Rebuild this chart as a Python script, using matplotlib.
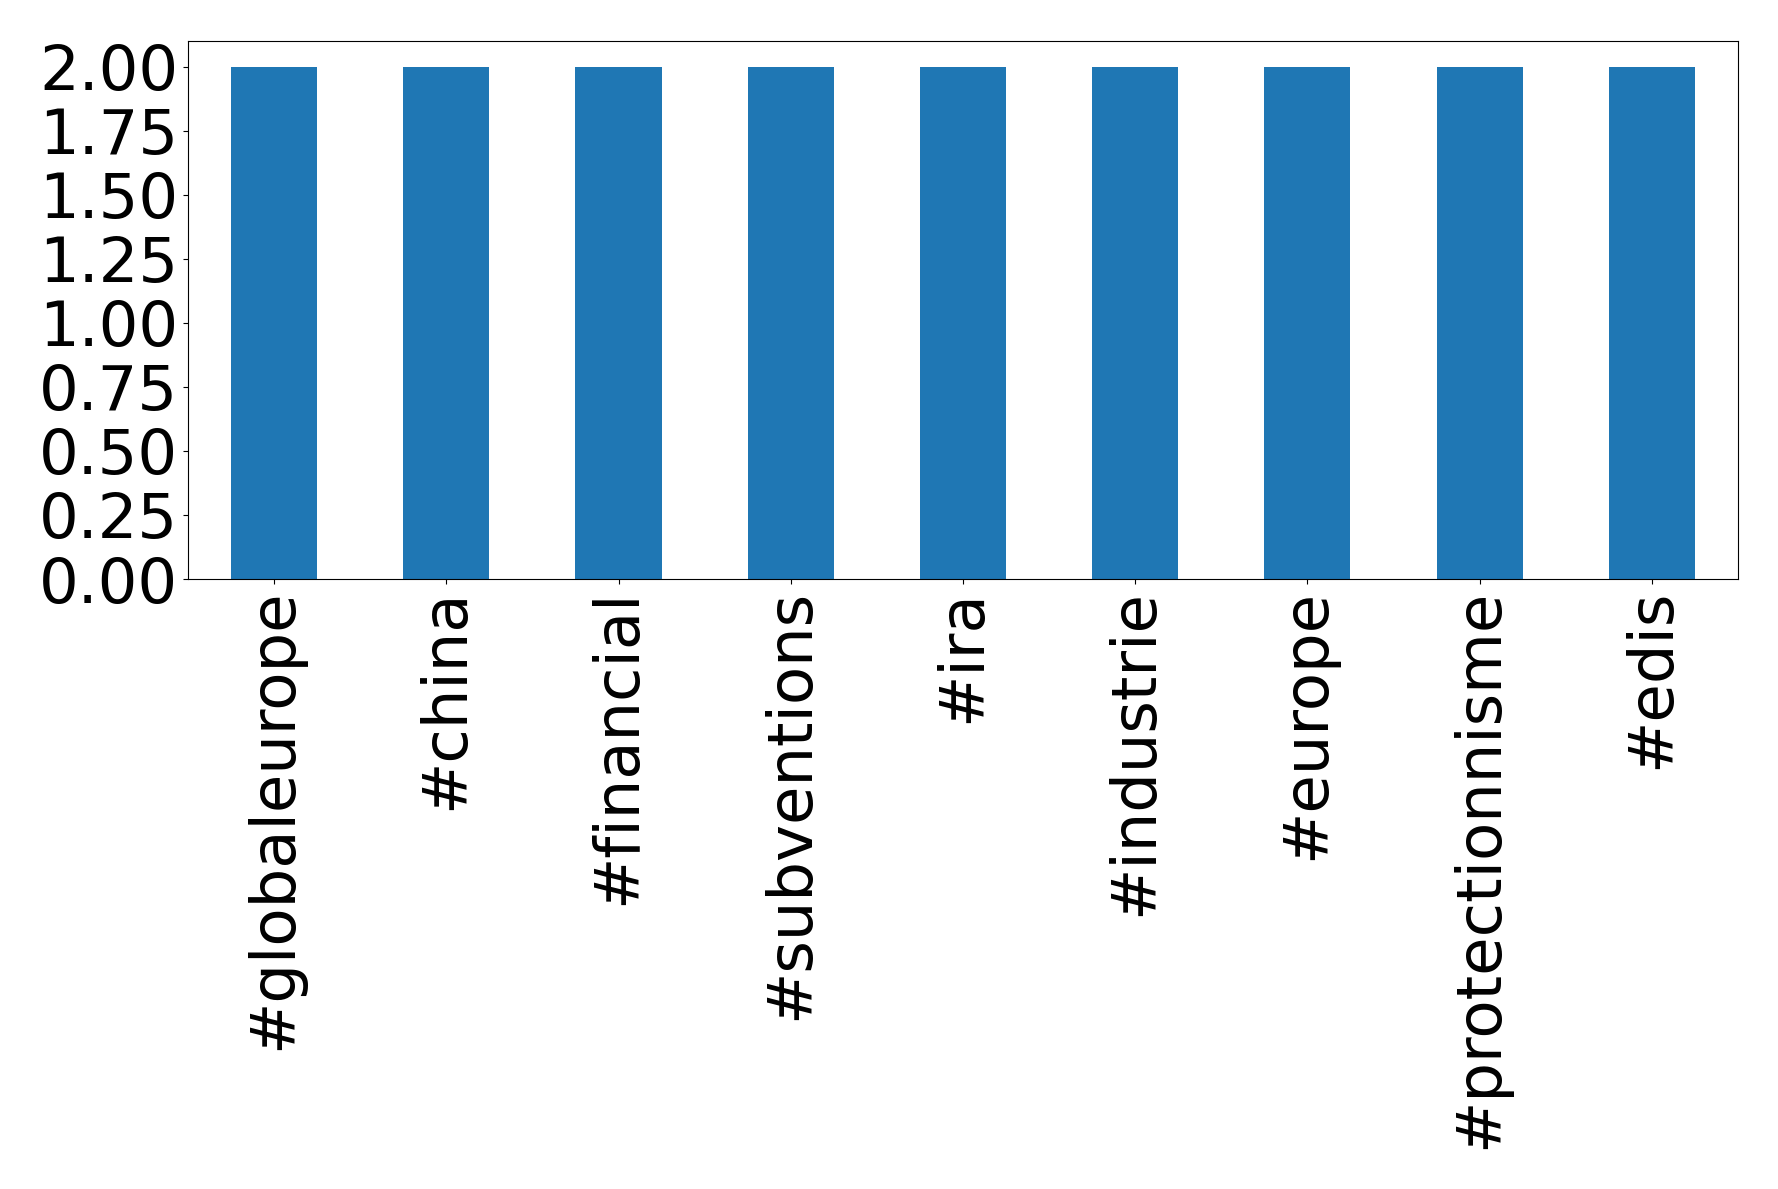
import matplotlib
matplotlib.use("Agg")
import matplotlib.pyplot as plt
from matplotlib.ticker import MultipleLocator, FormatStrFormatter
import pandas as pd

categories = ["#globaleurope", "#china", "#financial", "#subventions", "#ira",
              "#industrie", "#europe", "#protectionnisme", "#edis"]
counts = [2, 2, 2, 2, 2, 2, 2, 2, 2]

fig = plt.figure(figsize=(17.78, 11.89), dpi=100)
ax = fig.add_axes([0.1057, 0.513, 0.9775 - 0.1057, 0.9655 - 0.513])
s = pd.Series(counts, index=categories)
s.plot(kind="bar", ax=ax, color="#1f77b4")
ax.yaxis.set_major_locator(MultipleLocator(0.25))
ax.yaxis.set_major_formatter(FormatStrFormatter("%.2f"))
ax.tick_params(axis="both", labelsize=45)
fig.savefig("out.png", dpi=100)
